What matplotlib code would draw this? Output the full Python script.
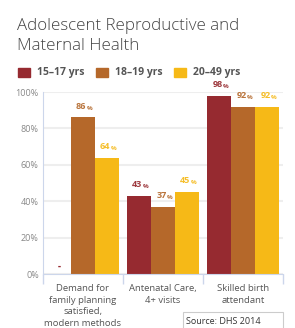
import numpy as np
import matplotlib.pyplot as plt

plt.rcParams['font.family'] = ['Open Sans', 'DejaVu Sans']

categories = ['Demand for\nfamily planning\nsatisfied,\nmodern methods',
              'Antenatal Care,\n4+ visits',
              'Skilled birth\nattendant']
series_names = ['15–17 yrs', '18–19 yrs', '20–49 yrs']
age_15_17 = [None, 43, 98]
age_18_19 = [86, 37, 92]
age_20_49 = [64, 45, 92]
y_ticks = [0, 20, 40, 60, 80, 100]

colors = ['#962a30', '#b5682a', '#f6b917']
label_colors = ['#9e3a3f', '#b9743c', '#f5be2a']

fig = plt.figure(figsize=(2.95, 3.28), dpi=100)
ax = fig.add_axes([43/295, 1-274/328, 240/295, 182/328])

x = np.arange(len(categories))
width = 0.3
all_series = [age_15_17, age_18_19, age_20_49]
for i, vals in enumerate(all_series):
    offs = (i - 1) * width
    for xi, v in zip(x, vals):
        if v is None:
            ax.text(xi + offs, 4, '-', color=colors[i], ha='center', va='center',
                    fontsize=7, fontweight='bold')
            continue
        ax.bar(xi + offs, v, width, color=colors[i], zorder=2)
        ax.annotate(str(v), (xi + offs, v), xytext=(2.5, 5), textcoords='offset points',
                    ha='right', va='bottom', fontsize=6.5, fontweight='bold',
                    color=label_colors[i], annotation_clip=False)
        ax.annotate('%', (xi + offs, v), xytext=(2.5, 5), textcoords='offset points',
                    ha='left', va='bottom', fontsize=4.5, fontweight='bold',
                    color=label_colors[i], annotation_clip=False)

ax.set_ylim(0, 100)
ax.set_xlim(-0.5, 2.5)
ax.set_yticks(y_ticks)
ax.set_yticklabels([f'{t}%' for t in y_ticks], fontsize=6.5, color='#888888')
ax.tick_params(axis='y', length=0, pad=3)
ax.grid(axis='y', color='#eeeeee', linewidth=1.5, zorder=0)

ax.set_xticks(x)
ax.set_xticklabels(categories, fontsize=6.8, color='#555555', linespacing=1.4, va='top')
ax.tick_params(axis='x', length=0, pad=7)
ax.set_xticks([-0.5, 0.5, 1.5, 2.5], minor=True)
ax.tick_params(axis='x', which='minor', length=7, color='#ccd6eb', width=1)

for s in ['top', 'right']:
    ax.spines[s].set_visible(False)
ax.spines['left'].set_color('#ccd6eb')
ax.spines['bottom'].set_color('#ccd6eb')

# title, two lines
for line, base in [('Adolescent Reproductive and', 30), ('Maternal Health', 50)]:
    fig.text(17/295, 1-base/328, line, fontsize=12.2, fontweight='light',
             color='#444444', ha='left', va='baseline')

leg_x = [18, 96, 174]
for i, name in enumerate(series_names):
    fig.patches.append(plt.Rectangle((leg_x[i]/295, 1-77/328), 12/295, 9/328,
                                     transform=fig.transFigure, color=colors[i]))
    fig.text((leg_x[i] + 19)/295, 1-72/328, name, fontsize=7.5, fontweight='bold',
             color='#555555', ha='left', va='center')

fig.patches.append(plt.Rectangle((183/295, -0.01), 100/295, 0.06,
                                 transform=fig.transFigure, facecolor='white',
                                 edgecolor='#cccccc', linewidth=0.8))
fig.text(186/295, 1-322/328, 'Source: DHS 2014', fontsize=6.5, color='#333333',
         ha='left', va='center')

fig.savefig('out.png', dpi=100)
